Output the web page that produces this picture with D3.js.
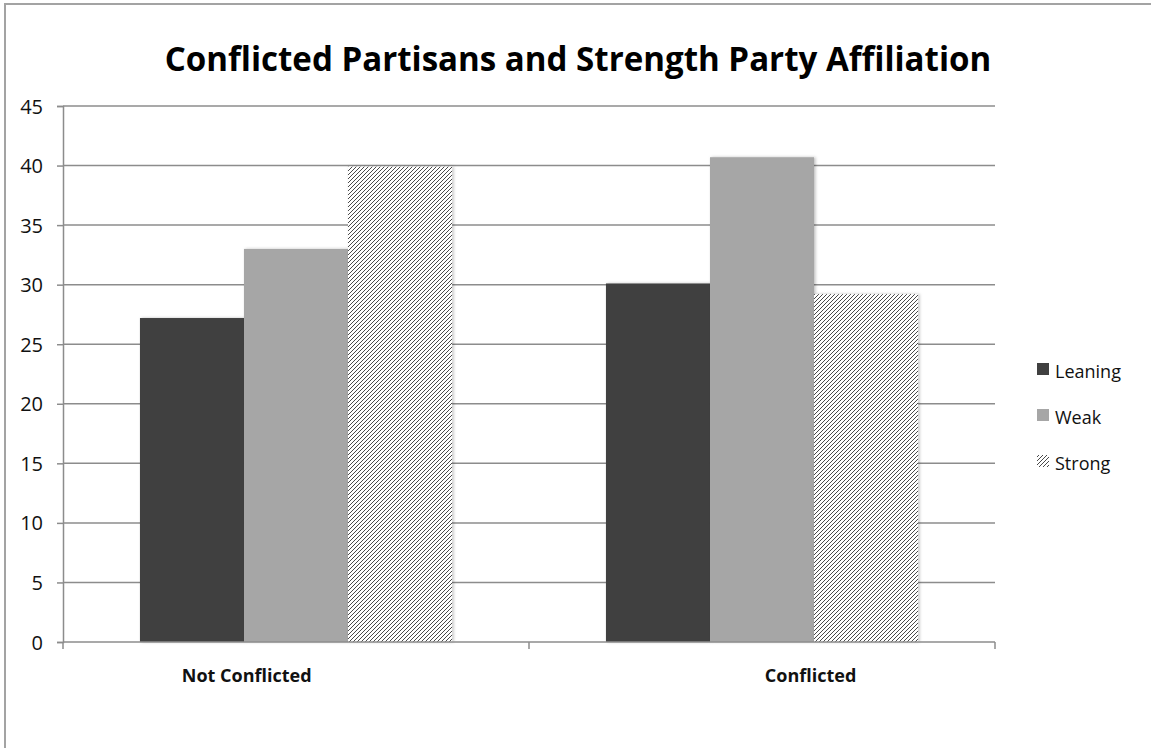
<!DOCTYPE html>
<html>
<head>
<meta charset="utf-8">
<script src="https://cdn.jsdelivr.net/npm/d3@7"></script>
<style>
  html, body { margin: 0; padding: 0; background: #fff; }
  svg { display: block; }
</style>
</head>
<body>
<svg id="chart" width="1151" height="748"></svg>
<script>
const title = "Conflicted Partisans and Strength Party Affiliation";
const categories = ["Not Conflicted", "Conflicted"];
const seriesNames = ["Leaning", "Weak", "Strong"];
const leaning = [27.2, 30.1];
const weak = [33.0, 40.7];
const strong = [39.9, 29.2];
const yTicks = [0, 5, 10, 15, 20, 25, 30, 35, 40, 45];

const seriesValues = [leaning, weak, strong];
const fills = ["#404040", "#a6a6a6", "url(#hatch)"];

const W = 1151, H = 748;
const margin = { left: 63, right: 156, top: 106, bottom: 106 };
const svg = d3.select("#chart");

const defs = svg.append("defs");
const pat = defs.append("pattern").attr("id", "hatch")
  .attr("patternUnits", "userSpaceOnUse").attr("width", 4).attr("height", 4);
pat.append("rect").attr("width", 4).attr("height", 4).attr("fill", "#ffffff");
pat.append("path").attr("d", "M-1,1 l2,-2 M0,4 l4,-4 M3,5 l2,-2")
  .attr("stroke", "#4a4a4a").attr("stroke-width", 1);
const sh = defs.append("filter").attr("id", "shadow")
  .attr("x", "-10%").attr("y", "-10%").attr("width", "130%").attr("height", "130%");
sh.append("feDropShadow").attr("dx", 1.5).attr("dy", 0).attr("stdDeviation", 1.5)
  .attr("flood-color", "#000").attr("flood-opacity", 0.25);

// frame
svg.append("rect").attr("x", 5).attr("y", 4).attr("width", W + 20).attr("height", H + 20)
  .attr("fill", "none").attr("stroke", "#a3a3a3").attr("stroke-width", 2);

const x0 = d3.scaleBand().domain(categories).range([margin.left, W - margin.right]).paddingInner(0).paddingOuter(0);
const x1 = d3.scaleBand().domain(seriesNames).range([0, x0.bandwidth()]).paddingOuter(0.74).paddingInner(0);
const y = d3.scaleLinear().domain([0, 45]).range([H - margin.bottom, margin.top]);

const gridColor = "#8c8c8c";

// gridlines + y ticks
const yAxis = svg.append("g").attr("transform", `translate(${margin.left},0)`)
  .call(d3.axisLeft(y).tickValues(yTicks).tickSize(6).tickPadding(14).tickFormat(d3.format("d")));
yAxis.select(".domain").attr("stroke", gridColor).attr("stroke-width", 1.5);
yAxis.selectAll(".tick line").attr("stroke", gridColor).attr("stroke-width", 1.5);
yAxis.selectAll(".tick text").attr("font-family", "Open Sans, sans-serif")
  .attr("font-size", 20).attr("fill", "#111").attr("dy", "0.35em");

svg.append("g").selectAll("line").data(yTicks.filter(d => d > 0)).join("line")
  .attr("x1", margin.left).attr("x2", W - margin.right)
  .attr("y1", d => y(d)).attr("y2", d => y(d))
  .attr("stroke", gridColor).attr("stroke-width", 1.5);

// bars
const groups = svg.append("g").selectAll("g").data(categories).join("g")
  .attr("transform", d => `translate(${x0(d)},0)`);
groups.selectAll("rect").data((c, ci) => seriesNames.map((s, si) => ({ s, si, v: seriesValues[si][ci] })))
  .join("rect")
  .attr("x", d => x1(d.s)).attr("width", x1.bandwidth())
  .attr("y", d => y(d.v)).attr("height", d => y(0) - y(d.v))
  .attr("fill", d => fills[d.si]).attr("filter", "url(#shadow)");

// x axis
const xAxis = svg.append("g").attr("transform", `translate(0,${y(0)})`);
xAxis.append("line").attr("x1", margin.left).attr("x2", W - margin.right)
  .attr("stroke", gridColor).attr("stroke-width", 1.5);
const xEdges = [x0.range()[0], ...categories.map(c => x0(c) + x0.bandwidth())];
xAxis.selectAll("line.t").data(xEdges).join("line").attr("class", "t")
  .attr("x1", d => d).attr("x2", d => d).attr("y1", 0).attr("y2", 7)
  .attr("stroke", gridColor).attr("stroke-width", 1.5);

// category labels
const labelOffsets = [0.255, 0.506];
svg.append("g").selectAll("text").data(categories).join("text")
  .attr("x", (d, i) => x0(d) + x0.bandwidth() * labelOffsets[i])
  .attr("y", y(0) + 40)
  .attr("font-family", "Open Sans, sans-serif").attr("font-weight", "bold")
  .attr("font-size", 18).attr("fill", "#111")
  .text(d => d);

// title
const t = svg.append("text").attr("x", 578).attr("y", 71).attr("text-anchor", "middle")
  .attr("font-family", "Open Sans, sans-serif").attr("font-weight", "bold")
  .attr("font-size", 30).attr("fill", "#000").text(title);
const tw = t.node().getComputedTextLength();
t.attr("font-size", 30 * 827 / tw);

// legend
const leg = svg.append("g").selectAll("g").data(seriesNames).join("g")
  .attr("transform", (d, i) => `translate(1037, ${369 + i * 46})`);
leg.append("rect").attr("x", 0).attr("y", -6).attr("width", 12).attr("height", 12)
  .attr("fill", (d, i) => fills[i]);
leg.append("text").attr("x", 18).attr("y", 9)
  .attr("font-family", "Open Sans, sans-serif").attr("font-size", 18).attr("fill", "#111")
  .text(d => d);
</script>
</body>
</html>
